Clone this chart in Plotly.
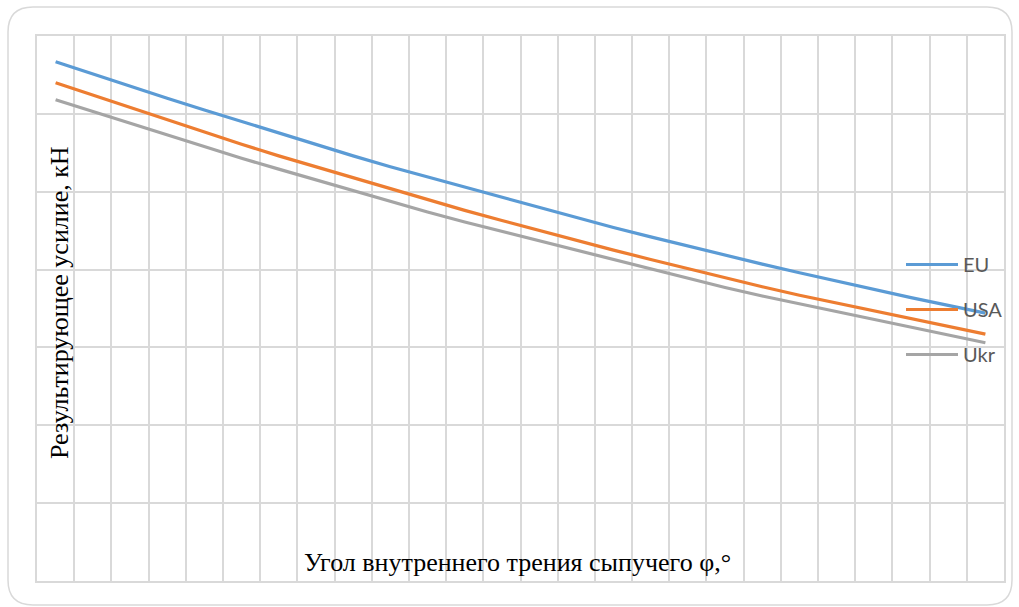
import plotly.graph_objects as go

angles = list(range(20, 46))  # 26 categories (tick labels hidden in the reference)

eu = [6.67, 6.51, 6.35, 6.20, 6.05, 5.90, 5.75, 5.60, 5.46, 5.32, 5.19, 5.05, 4.92,
      4.79, 4.67, 4.54, 4.42, 4.30, 4.19, 4.07, 3.96, 3.85, 3.75, 3.64, 3.54, 3.44]
usa = [6.40, 6.24, 6.08, 5.92, 5.77, 5.61, 5.46, 5.32, 5.17, 5.03, 4.90, 4.76, 4.63,
       4.50, 4.37, 4.25, 4.13, 4.01, 3.89, 3.78, 3.67, 3.57, 3.46, 3.36, 3.26, 3.17]
ukr = [6.18, 6.03, 5.87, 5.72, 5.58, 5.43, 5.29, 5.15, 5.01, 4.88, 4.74, 4.61, 4.49,
       4.36, 4.24, 4.12, 4.00, 3.89, 3.77, 3.66, 3.56, 3.45, 3.35, 3.25, 3.15, 3.06]

series_names = ["EU", "USA", "Ukr"]
series_values = [eu, usa, ukr]
series_colors = ["#5B9BD5", "#ED7D31", "#A5A5A5"]

y_title = "Результирующее усилие, кН"
x_title = "Угол внутреннего трения сыпучего φ,°"

fig = go.Figure()
for name, vals, col in zip(series_names, series_values, series_colors):
    fig.add_trace(go.Scatter(
        x=angles, y=vals, mode="lines", name=name, legendgroup=name,
        line=dict(color=col, width=3.2),
    ))

W, H = 1019, 607
L, R, T, B = 37, 15, 36, 26
pw, ph = W - L - R, H - T - B

def px(x):
    return (x - L) / pw

def py(y):
    return (H - B - y) / ph

grid = "#D9D9D9"
serif = "Liberation Serif, Times New Roman, serif"
fig.update_layout(
    width=W, height=H,
    margin=dict(l=L, r=R, t=T, b=B, autoexpand=False),
    paper_bgcolor="white", plot_bgcolor="white",
    showlegend=True,
    legend=dict(
        x=px(901), y=py(245), xanchor="left", yanchor="top",
        bgcolor="rgba(0,0,0,0)",
        font=dict(family="Lato, Open Sans, sans-serif", size=20, color="#595959"),
        tracegroupgap=16, itemwidth=52,
    ),
    xaxis=dict(
        range=[angles[0] - 0.5, angles[-1] + 0.5],
        tick0=angles[0] - 0.5, dtick=1, showticklabels=False, ticks="",
        showgrid=True, gridcolor=grid, gridwidth=1.5,
        showline=True, linecolor=grid, linewidth=1.5, mirror=True,
        zeroline=False,
    ),
    yaxis=dict(
        range=[0, 7], tick0=0, dtick=1, showticklabels=False, ticks="",
        showgrid=True, gridcolor=grid, gridwidth=1.5,
        showline=True, linecolor=grid, linewidth=1.5, mirror=True,
        zeroline=False,
    ),
    annotations=[
        dict(text=y_title, xref="paper", yref="paper", x=px(59), y=py(303),
             textangle=-90, showarrow=False, xanchor="center", yanchor="middle",
             font=dict(family=serif, size=26, color="black")),
        dict(text=x_title, xref="paper", yref="paper", x=px(517), y=py(562),
             showarrow=False, xanchor="center", yanchor="middle",
             font=dict(family=serif, size=26, color="black")),
    ],
)

# rounded chart-area border
x0, x1 = px(8), px(1012)
y0, y1 = py(605), py(7)
rx, ry = 25 / pw, 25 / ph
path = (f"M{x0 + rx},{y1} L{x1 - rx},{y1} Q{x1},{y1} {x1},{y1 - ry} "
        f"L{x1},{y0 + ry} Q{x1},{y0} {x1 - rx},{y0} L{x0 + rx},{y0} "
        f"Q{x0},{y0} {x0},{y0 + ry} L{x0},{y1 - ry} Q{x0},{y1} {x0 + rx},{y1} Z")
fig.add_shape(type="path", xref="paper", yref="paper", path=path,
              line=dict(color=grid, width=1.5), layer="below")

fig.write_html(
    "out.html",
    config={"displayModeBar": False},
    post_script="document.body.style.margin='0';document.body.style.overflow='hidden';",
)
